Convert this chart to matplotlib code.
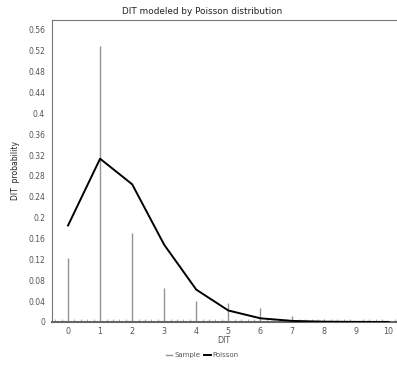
import numpy as np
from matplotlib import pyplot as plt
from matplotlib.lines import Line2D

#Data
dit = [0, 1, 2, 3, 4, 5, 6, 7, 8, 9, 10]
sample = [0.122, 0.530, 0.171, 0.066, 0.040, 0.037, 0.027, 0.012, 0.006, 0.0, 0.0]
poisson = [0.185, 0.313, 0.264, 0.148, 0.062, 0.022, 0.007, 0.002, 0.0005, 0.0001, 0.0]
yticks = [0, 0.04, 0.08, 0.12, 0.16, 0.2, 0.24, 0.28, 0.32, 0.36, 0.4, 0.44, 0.48, 0.52, 0.56]

txt = '#555555'
fig = plt.figure(figsize=(3.97, 3.77), dpi=100)
ax = fig.add_axes([0.131, 0.146, 0.868, 0.801])

ax.vlines(dit, 0, sample, color='#939393', linewidth=1.0, zorder=2)
ax.plot(dit, poisson, color='black', linewidth=1.4, zorder=3)

ax.set_xlim(-0.5, 10.25)
ax.set_ylim(0, 0.579)
ax.set_xticks(dit)
ax.set_xticks(np.arange(-0.4, 10.25, 0.2), minor=True)
ax.set_yticks(yticks)
ax.set_yticklabels([('%g' % v) for v in yticks])
ax.tick_params(axis='x', which='major', length=0, labelsize=5.8, labelcolor=txt, pad=3.5)
ax.tick_params(axis='x', which='minor', length=2, direction='in', color='#999999', width=0.6)
ax.tick_params(axis='y', length=0, labelsize=5.5, labelcolor=txt, pad=5)

for s in ['left', 'top']:
    ax.spines[s].set_color('#777777')
    ax.spines[s].set_linewidth(0.8)
ax.spines['right'].set_visible(False)
ax.spines['bottom'].set_color('#666666')
ax.spines['bottom'].set_linewidth(1.5)

fig.text(0.508, 0.970, 'DIT modeled by Poisson distribution', fontsize=6.4,
         color='#222222', ha='center', va='center')
ax.set_xlabel('DIT', fontsize=5.8, color=txt, labelpad=0)
ax.set_ylabel('DIT  probability', fontsize=5.5, color='#222222', labelpad=6)

handles = [Line2D([], [], color='#939393', linewidth=1.0),
           Line2D([], [], color='black', linewidth=1.4)]
fig.legend(handles, ['Sample', 'Poisson'], loc='center', bbox_to_anchor=(0.51, 0.058),
           ncol=2, frameon=False, fontsize=5, handlelength=0.9, handletextpad=0.3,
           columnspacing=0.6, labelcolor=txt)

fig.savefig('out.png', dpi=100)
